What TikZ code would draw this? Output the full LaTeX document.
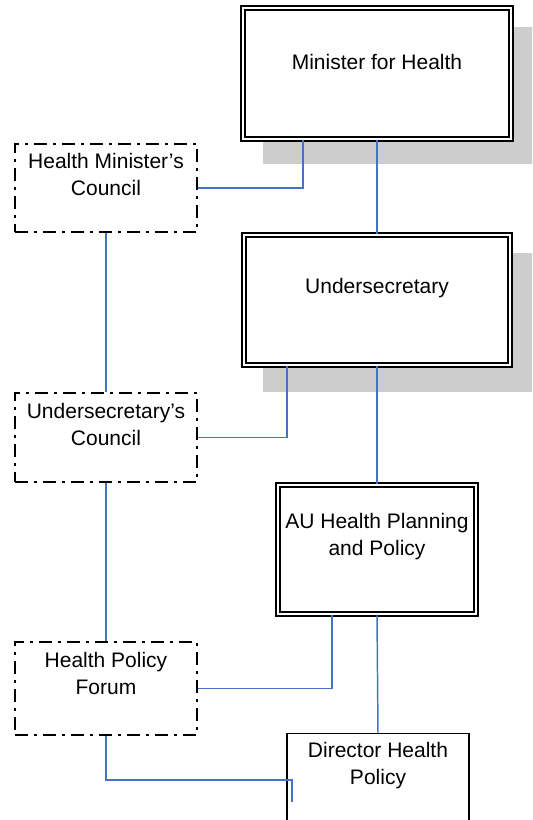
\documentclass[tikz,border=0pt]{standalone}
\usepackage{fontspec}
\setmainfont{Liberation Sans}
\usetikzlibrary{calc}
\definecolor{connblue}{RGB}{68,114,196}
\definecolor{shadowgray}{RGB}{205,205,205}
\tikzset{
  dblbox/.style={draw=black, line width=0.9pt, double=white, double distance=2pt, fill=white, inner sep=0pt},
  dashbox/.style={draw=black, line width=1.9pt, dash pattern=on 10pt off 4.5pt on 2pt off 4.5pt, inner sep=0pt},
  plainbox/.style={draw=black, line width=1.1pt, fill=white, inner sep=0pt},
  shadowbox/.style={fill=shadowgray, draw=none},
  label/.style={align=center, font=\fontsize{15.75}{20.25}\selectfont, inner sep=0pt},
  conn/.style={draw=connblue, line width=1.1pt},
}
\begin{document}
\begin{tikzpicture}[x=0.75pt, y=-0.75pt]
\clip (0,0) rectangle (532,820);
\fill[white] (0,0) rectangle (532,820);
% shadows
\fill[shadowbox] (263,27) rectangle (540,164);
\fill[shadowbox] (263,253) rectangle (540,392);
% main boxes
\node[dblbox, minimum width=268*0.75pt, minimum height=131*0.75pt] (min) at (377,73.5) {};
\node[label] (mint) at (377,62) {Minister for Health};
\node[dblbox, minimum width=266*0.75pt, minimum height=130*0.75pt] (und) at (377,300) {};
\node[label] (undt) at (377,288) {Undersecretary};
\node[dblbox, minimum width=198*0.75pt, minimum height=129*0.75pt] (au) at (377,549.5) {};
\node[label] (aut) at (377,537) {AU Health Planning\\and Policy};
\node[plainbox, minimum width=182*0.75pt, minimum height=130*0.75pt, anchor=north] (dir) at (378,733) {};
\node[label] (dirt) at (378,766) {Director Health\\Policy};
% councils
\node[dashbox, minimum width=182*0.75pt, minimum height=88*0.75pt] (hmc) at (106,188) {};
\node[label] (hmct) at (106,174.5) {Health Minister’s\\Council};
\node[dashbox, minimum width=182*0.75pt, minimum height=89*0.75pt] (uc) at (106,437.5) {};
\node[label] (uct) at (106,424) {Undersecretary’s\\Council};
\node[dashbox, minimum width=182*0.75pt, minimum height=93*0.75pt] (forum) at (106,688.5) {};
\node[label] (forumt) at (106,673) {Health Policy\\Forum};
\coordinate (dturn) at (292,780);
\coordinate (dend) at (292,802);
% connectors
\draw[conn] (min.south) -- (und.north);
\draw[conn] (und.south) -- (au.north);
\draw[conn] (au.south) -- (dir.north);
\draw[conn] ($(min.south)+(-74,0)$) |- (hmc.east);
\draw[conn] ($(und.south)+(-90,0)$) |- (uc.east);
\draw[conn] ($(au.south)+(-45,0)$) |- (forum.east);
\draw[conn] (hmc.south) -- (uc.north);
\draw[conn] (uc.south) -- (forum.north);
\draw[conn] (forum.south) |- (dturn) -- (dend);
\end{tikzpicture}
\end{document}
